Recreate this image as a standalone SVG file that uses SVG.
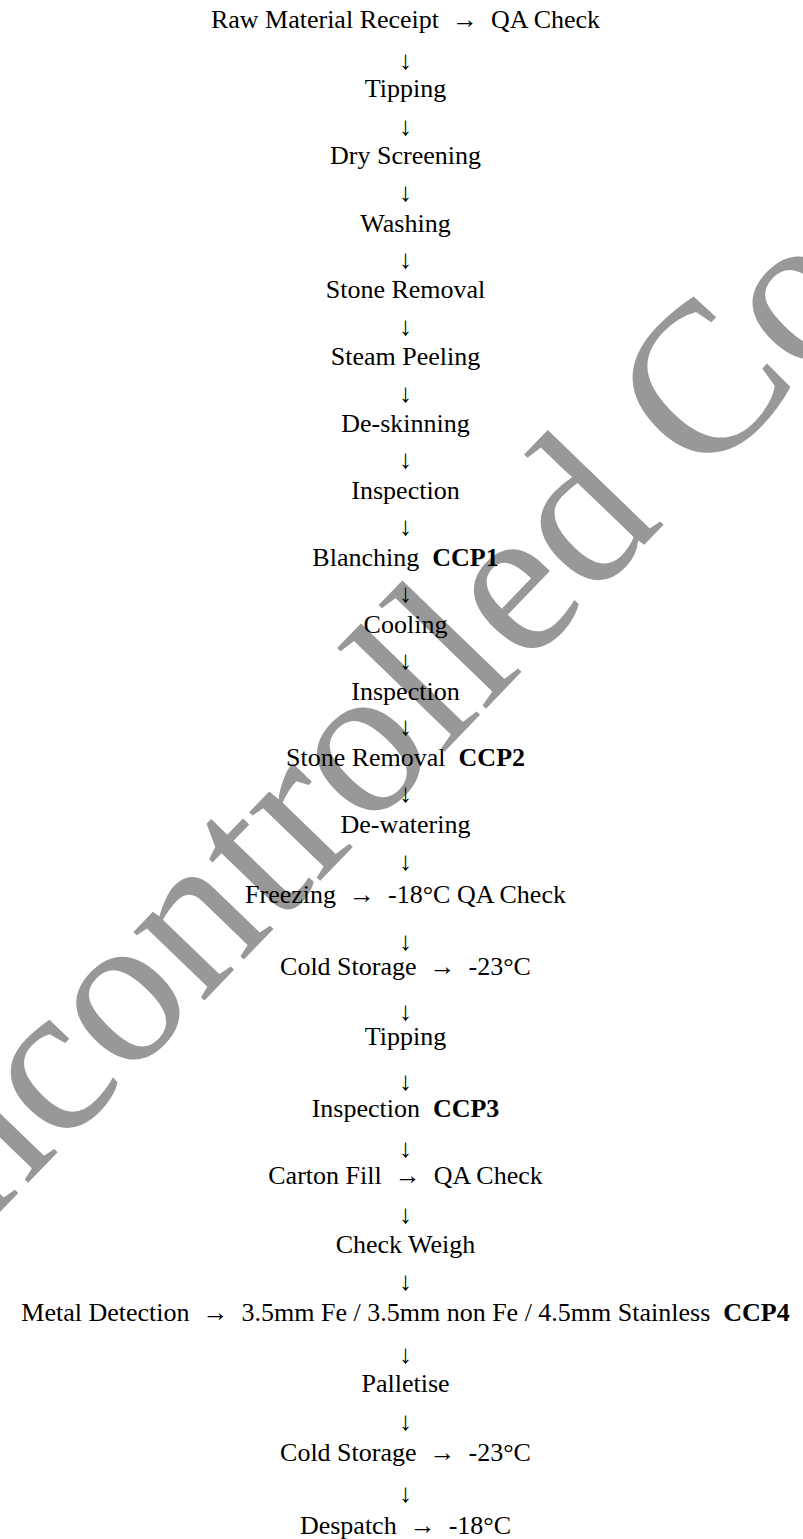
<svg xmlns="http://www.w3.org/2000/svg" width="803" height="1539" viewBox="0 0 803 1539">
<style>
.t{font-family:"Liberation Serif","Times New Roman",serif;font-size:26px;fill:#000;text-anchor:middle;white-space:pre}
.b{font-weight:bold}
.a{font-family:"Liberation Serif","Times New Roman",serif;font-size:26px;fill:#000;text-anchor:middle}
.wm{font-family:"Liberation Serif","Times New Roman",serif;font-size:215px;fill:#989898;text-anchor:middle}
</style>
<rect width="803" height="1539" fill="#fff"/>
<g id="watermark"><text class="wm" x="452" y="744" transform="rotate(-46 452 744)">Uncontrolled Copy</text></g>
<g id="n0"><text class="t" x="405.5" y="27.5" xml:space="preserve">Raw Material Receipt  →  QA Check</text></g>
<g id="n1"><text class="t" x="405.5" y="97">Tipping</text></g>
<g id="n2"><text class="t" x="405.5" y="164.3">Dry Screening</text></g>
<g id="n3"><text class="t" x="405.5" y="231.5">Washing</text></g>
<g id="n4"><text class="t" x="405.5" y="298.3">Stone Removal</text></g>
<g id="n5"><text class="t" x="405.5" y="365">Steam Peeling</text></g>
<g id="n6"><text class="t" x="405.5" y="431.7">De-skinning</text></g>
<g id="n7"><text class="t" x="405.5" y="498.5">Inspection</text></g>
<g id="n8"><text class="t" x="405.5" y="565.5" xml:space="preserve">Blanching  <tspan class="b">CCP1</tspan></text></g>
<g id="n9"><text class="t" x="405.5" y="632.5">Cooling</text></g>
<g id="n10"><text class="t" x="405.5" y="699.5">Inspection</text></g>
<g id="n11"><text class="t" x="405.5" y="766" xml:space="preserve">Stone Removal  <tspan class="b">CCP2</tspan></text></g>
<g id="n12"><text class="t" x="405.5" y="832.5">De-watering</text></g>
<g id="n13"><text class="t" x="405.5" y="903" xml:space="preserve">Freezing  →  -18°C QA Check</text></g>
<g id="n14"><text class="t" x="405.5" y="975" xml:space="preserve">Cold Storage  →  -23°C</text></g>
<g id="n15"><text class="t" x="405.5" y="1045">Tipping</text></g>
<g id="n16"><text class="t" x="405.5" y="1117" xml:space="preserve">Inspection  <tspan class="b">CCP3</tspan></text></g>
<g id="n17"><text class="t" x="405.5" y="1184" xml:space="preserve">Carton Fill  →  QA Check</text></g>
<g id="n18"><text class="t" x="405.5" y="1253">Check Weigh</text></g>
<g id="n19"><text class="t" x="405.5" y="1321" xml:space="preserve">Metal Detection  →  3.5mm Fe / 3.5mm non Fe / 4.5mm Stainless  <tspan class="b">CCP4</tspan></text></g>
<g id="n20"><text class="t" x="405.5" y="1392">Palletise</text></g>
<g id="n21"><text class="t" x="405.5" y="1461" xml:space="preserve">Cold Storage  →  -23°C</text></g>
<g id="n22"><text class="t" x="405.5" y="1534" xml:space="preserve">Despatch  →  -18°C</text></g>
<g id="connectors">
<text class="a" x="405.5" y="69">↓</text>
<text class="a" x="405.5" y="135">↓</text>
<text class="a" x="405.5" y="201">↓</text>
<text class="a" x="405.5" y="268">↓</text>
<text class="a" x="405.5" y="335">↓</text>
<text class="a" x="405.5" y="402">↓</text>
<text class="a" x="405.5" y="468">↓</text>
<text class="a" x="405.5" y="535">↓</text>
<text class="a" x="405.5" y="602">↓</text>
<text class="a" x="405.5" y="669">↓</text>
<text class="a" x="405.5" y="735">↓</text>
<text class="a" x="405.5" y="802">↓</text>
<text class="a" x="405.5" y="870">↓</text>
<text class="a" x="405.5" y="950">↓</text>
<text class="a" x="405.5" y="1020">↓</text>
<text class="a" x="405.5" y="1090">↓</text>
<text class="a" x="405.5" y="1157">↓</text>
<text class="a" x="405.5" y="1223">↓</text>
<text class="a" x="405.5" y="1290">↓</text>
<text class="a" x="405.5" y="1363">↓</text>
<text class="a" x="405.5" y="1430">↓</text>
<text class="a" x="405.5" y="1502">↓</text>
</g>
</svg>
